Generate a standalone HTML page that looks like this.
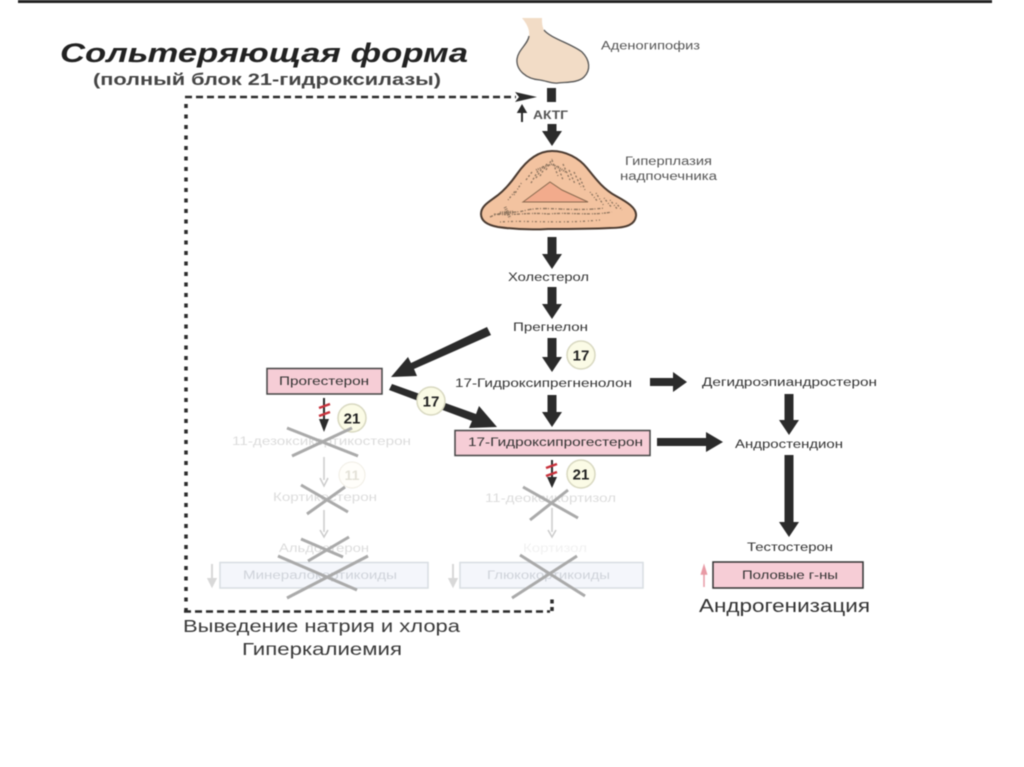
<!DOCTYPE html>
<html><head><meta charset="utf-8"><style>
html,body{margin:0;padding:0;background:#fff;width:1024px;height:767px;overflow:hidden}
svg{display:block;filter:blur(.5px)}
text{font-family:"Liberation Sans",sans-serif;fill:#333;font-size:11.5px}
.f{fill:#dcdcdc}
.x{stroke:#aaa;stroke-width:3;fill:none}
.c{fill:#fbfbe6;stroke:#d8d8c0;stroke-width:1.5}
.n{font-weight:bold;font-size:15px;fill:#222;text-anchor:middle}
.a{fill:#2b2b2b}
</style></head><body>
<svg width="1024" height="767" viewBox="0 0 1024 767" xmlns="http://www.w3.org/2000/svg">
<rect x="18" y="0" width="974" height="3" fill="#222"/>

<text x="60" y="62" textLength="408" lengthAdjust="spacingAndGlyphs" style="font-size:27px;font-weight:bold;font-style:italic;fill:#222">Сольтеряющая форма</text>
<text x="93" y="85" textLength="348" lengthAdjust="spacingAndGlyphs" style="font-size:17px;font-weight:bold;fill:#444">(полный блок 21-гидроксилазы)</text>

<!-- dashed feedback -->
<path d="M185 97H516" stroke="#2b2b2b" stroke-width="2.5" stroke-dasharray="7 4" fill="none"/>
<path d="M186 104V612" stroke="#2b2b2b" stroke-width="3.5" stroke-dasharray="4 6.5" fill="none"/>
<path d="M184 611.500H550" stroke="#2b2b2b" stroke-width="2.500" stroke-dasharray="7 4" fill="none"/>
<path d="M552 611V596" stroke="#2b2b2b" stroke-width="3.500" stroke-dasharray="4 3.500" fill="none"/>
<path d="M515 92L537 97L515 102L519 97Z" class="a"/>

<!-- pituitary -->
<path d="M522 18C527 24 530 30 529 36C528 44 518 50 517 59C516 70 526 79 540 80C547 81 552 84 558 83C566 82 578 83 584 77C591 70 590 60 582 52C572 44 550 38 544 30C542 26 542 22 542 18" fill="#f2dcc6" stroke="none"/>
<path d="M529 36C528 44 518 50 517 59C516 70 526 79 540 80C547 81 552 84 558 83C566 82 578 83 584 77C591 70 590 60 582 52C572 44 550 38 544 30" fill="none" stroke="#555" stroke-width="1.300"/>
<text x="601" y="49.500" textLength="99" lengthAdjust="spacingAndGlyphs" style="fill:#555">Аденогипофиз</text>

<!-- ACTH -->
<rect x="547" y="88" width="9" height="14" class="a"/>
<path d="M522 122V110M518.500 112L522 106L525.500 112Z" stroke="#2b2b2b" stroke-width="2" fill="#2b2b2b"/>
<text x="533" y="119" textLength="35" lengthAdjust="spacingAndGlyphs" style="font-weight:bold;fill:#555">АКТГ</text>
<path d="M547.500 124H556.500V131H562L552 146L542 131H547.500Z" class="a"/>

<!-- adrenal -->
<path d="M481 214C481 207 487 203 494 198C503 192 510 184 517 174C524 164 536 151 552 151C566 151 579 158 587 168C595 178 603 189 616 196C627 202 637 208 636 216C635 224 628 228 610 228C590 229 570 229 548 229C530 230 512 229 498 227C487 225 481 221 481 214Z" fill="#f3c3a0" stroke="#4a3a30" stroke-width="2"/>
<path d="M523 202L550 182L562 190L588 202Z" fill="#f2ab8c" stroke="#8a6a50" stroke-width="1"/>
<g fill="none" stroke="#6b5a48" stroke-width="1.300" opacity=".75">
<path stroke-dasharray="3 1.500 1 2 4 1 1 2" d="M490 217C505 210 515 214 527 210C545 206 570 212 605 208"/>
<path stroke-dasharray="2 1 3 2 1 1" d="M494 214C510 216 530 212 548 214C570 212 590 216 612 212"/>
<path stroke-dasharray="1 2 2 3" d="M500 222C525 220 560 224 600 220"/>
<path stroke-dasharray="1 1" stroke-width="3" d="M500 213L514 212M505 207L510 218"/>
<path stroke-dasharray="2 2" d="M526 180L532 172M531 183L538 171M536 178L544 165M540 176L548 162M546 170L552 159M552 160L558 176M558 166L563 180M563 164L570 180M569 170L575 184M574 172L581 187M580 178L585 190"/>
<path stroke-dasharray="1 1.500 2 2" d="M508 200L516 190M514 195L522 182M596 193L604 206M604 198L612 208M590 192L598 202M610 200L618 210M616 203L622 210"/>
<path stroke-dasharray="1 1" stroke-width="2" d="M536 170L552 164L566 172"/>
</g>
<text x="625" y="165" textLength="87" lengthAdjust="spacingAndGlyphs" style="fill:#555">Гиперплазия</text>
<text x="620" y="180" textLength="97" lengthAdjust="spacingAndGlyphs" style="fill:#555">надпочечника</text>

<!-- main column -->
<path d="M547.500 237H556.500V254H562L552 269L542 254H547.500Z" class="a"/>
<text x="508" y="281" textLength="81" lengthAdjust="spacingAndGlyphs">Холестерол</text>
<path d="M547.500 287H556.500V304H562L552 319L542 304H547.500Z" class="a"/>
<text x="513" y="331" textLength="75" lengthAdjust="spacingAndGlyphs">Прегнелон</text>
<path d="M547.500 338H556.500V357H562L552 372L542 357H547.500Z" class="a"/>
<text x="455" y="387" textLength="177" lengthAdjust="spacingAndGlyphs">17-Гидроксипрегненолон</text>
<path d="M547.500 395H556.500V412H562L552 427L542 412H547.500Z" class="a"/>

<!-- right branch -->
<path d="M650 378H673V372L687 382L673 392V386H650Z" class="a"/>
<text x="702" y="386" textLength="175" lengthAdjust="spacingAndGlyphs">Дегидроэпиандростерон</text>
<path d="M784.500 394H793.500V420H799L789 435L779 420H784.500Z" class="a"/>
<path d="M657 438H706V432L723 442L706 452V446H657Z" class="a"/>
<text x="735" y="448" textLength="108" lengthAdjust="spacingAndGlyphs">Андростендион</text>
<path d="M784.500 455H793.500V522H799L789 537L779 522H784.500Z" class="a"/>
<text x="747" y="551" textLength="86" lengthAdjust="spacingAndGlyphs">Тестостерон</text>

<!-- boxes -->
<rect x="267" y="368.500" width="115" height="25.500" fill="#f6cdd6" stroke="#444" stroke-width="1.500"/>
<text x="279" y="385" textLength="90" lengthAdjust="spacingAndGlyphs">Прогестерон</text>
<rect x="455" y="430.500" width="195" height="25" fill="#f6cdd6" stroke="#444" stroke-width="1.500"/>
<text x="468" y="446" textLength="175" lengthAdjust="spacingAndGlyphs" style="font-size:12px">17-Гидроксипрогестерон</text>
<rect x="713" y="562" width="150" height="26" fill="#f6cdd6" stroke="#333" stroke-width="1.500"/>
<text x="742" y="579" textLength="96" lengthAdjust="spacingAndGlyphs">Половые г-ны</text>
<path d="M704 587V572M701.500 574L704 566L706.500 574Z" stroke="#e89aa5" stroke-width="1.500" fill="#e89aa5"/>
<text x="699" y="612" textLength="171" lengthAdjust="spacingAndGlyphs" style="font-size:18px;fill:#333">Андрогенизация</text>

<!-- diagonals -->
<path d="M487 327L491 335L414 369L417 376L391 377L408 357L411 363Z" class="a"/>
<path d="M392 384L389 390L472 421L469 428L497 427L479 406L476 414Z" class="a"/>
<circle cx="431" cy="401" r="14" class="c"/><text x="431" y="406.500" class="n">17</text>
<circle cx="581" cy="355" r="14" class="c"/><text x="581" y="360.500" class="n">17</text>

<!-- blocked arrows -->
<path d="M324 398V420" stroke="#2b2b2b" stroke-width="2"/><path d="M319 419H329L324 432Z" class="a"/>
<path d="M319 408L330 404M319 416L330 412" stroke="#c8323c" stroke-width="2.500"/>
<circle cx="352" cy="418" r="14" class="c"/><text x="352" y="423.500" class="n">21</text>
<path d="M552 460V478" stroke="#2b2b2b" stroke-width="2"/><path d="M547 477H557L552 488Z" class="a"/>
<path d="M546 468L557 464M546 476L557 472" stroke="#c8323c" stroke-width="2.500"/>
<circle cx="581" cy="474" r="14" class="c"/><text x="581" y="479.500" class="n">21</text>

<!-- faded -->
<text class="f" x="232" y="445" textLength="179" lengthAdjust="spacingAndGlyphs">11-дезоксикортикостерон</text>
<path d="M324 457V480M320 478L324 486L328 478" stroke="#ccc" stroke-width="1.500" fill="none"/>
<circle cx="352" cy="475" r="13" fill="#fffefa" stroke="#f0ede4"/><text x="352" y="480" text-anchor="middle" style="font-size:14px;font-weight:bold;fill:#e4e2d8">11</text>
<text class="f" x="273" y="501" textLength="104" lengthAdjust="spacingAndGlyphs">Кортикостерон</text>
<path d="M324 510V532M320 530L324 537L328 530" stroke="#ccc" stroke-width="1.500" fill="none"/>
<text class="f" x="279" y="552" textLength="90" lengthAdjust="spacingAndGlyphs">Альдостерон</text>
<rect x="220" y="562.500" width="208" height="25.500" fill="#f4f6fb" stroke="#d8dde2" stroke-width="1.500"/>
<text x="243" y="579" textLength="154" lengthAdjust="spacingAndGlyphs" style="fill:#cfd3da">Минералокортикоиды</text>
<path d="M212 564V580M208.500 579L212 586L215.500 579Z" stroke="#d8d8d8" stroke-width="2" fill="#d8d8d8"/>

<text class="f" x="485" y="502" textLength="131" lengthAdjust="spacingAndGlyphs">11-деоксикортизол</text>
<path d="M552 508V532M548 530L552 537L556 530" stroke="#ccc" stroke-width="1.500" fill="none"/>
<text x="523" y="552" textLength="64" lengthAdjust="spacingAndGlyphs" style="fill:#f1f1f1">Кортизол</text>
<rect x="460" y="562.500" width="183" height="25.500" fill="#f4f6fb" stroke="#d8dde2" stroke-width="1.500"/>
<text x="487" y="579" textLength="123" lengthAdjust="spacingAndGlyphs" style="fill:#cfd3da">Глюкокортикоиды</text>
<path d="M453 564V580M449.500 579L453 586L456.500 579Z" stroke="#d8d8d8" stroke-width="2" fill="#d8d8d8"/>

<!-- crosses -->
<path class="x" d="M287 428L358 456M292 456L352 428"/>
<path class="x" d="M301 485L348 512M307 514L345 487"/>
<path class="x" d="M301 539L343 557M308 561L349 537"/>
<path class="x" d="M278 556L357 590M287 598L368 556"/>
<path class="x" d="M523 487L578 518M530 520L568 490"/>
<path class="x" d="M520 555L585 596M512 598L577 556"/>

<text x="183" y="632" textLength="277" lengthAdjust="spacingAndGlyphs" style="font-size:17.500px;fill:#3a3a3a">Выведение натрия и хлора</text>
<text x="242" y="655" textLength="160" lengthAdjust="spacingAndGlyphs" style="font-size:17.500px;fill:#3a3a3a">Гиперкалиемия</text>
</svg>
</body></html>
